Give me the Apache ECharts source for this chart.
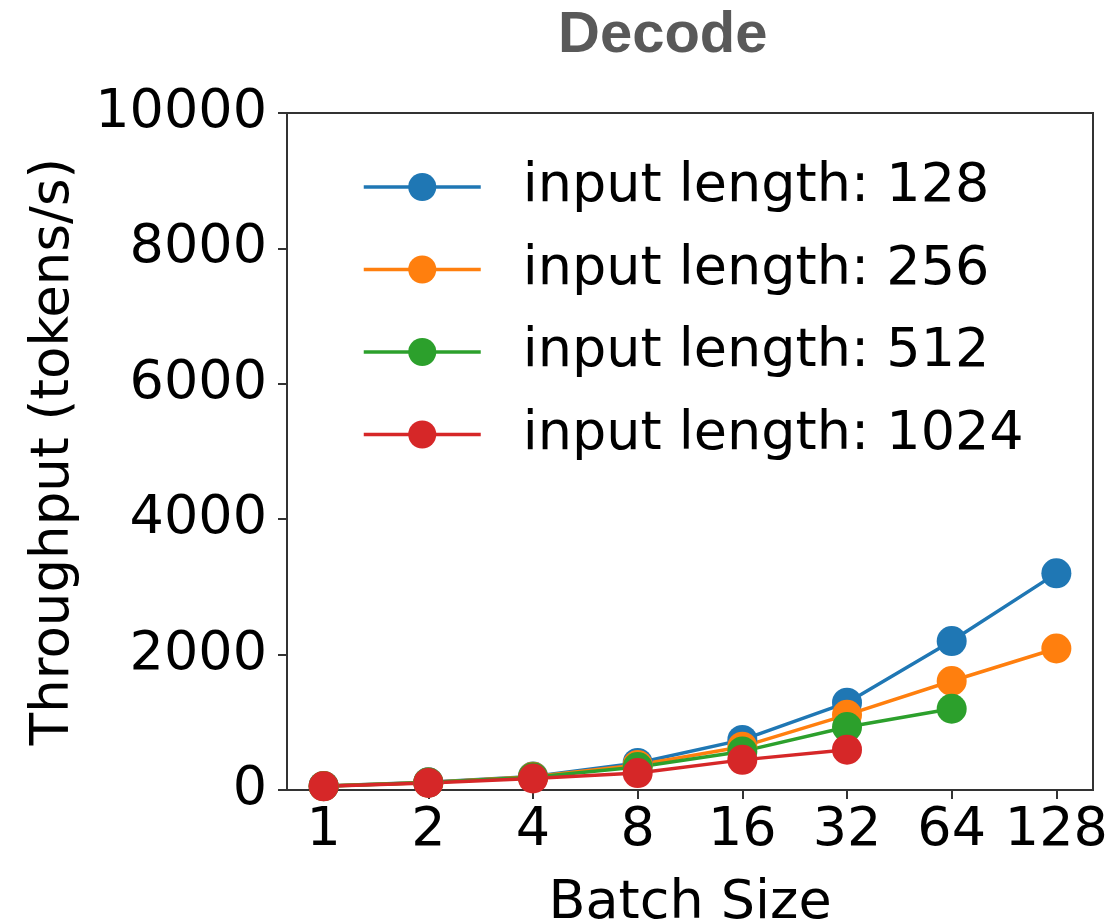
<!DOCTYPE html>
<html>
<head>
<meta charset="utf-8">
<script src="https://cdn.jsdelivr.net/npm/echarts@6/dist/echarts.min.js"></script>
<style>
  html, body { margin: 0; padding: 0; background: #fff; }
  #chart { width: 1112px; height: 924px; }
</style>
</head>
<body>
<div id="chart"></div>
<script>
// batch sizes on the x axis (evenly spaced categories)
const batchSizes = ['1', '2', '4', '8', '16', '32', '64', '128'];
const yTicks = [0, 2000, 4000, 6000, 8000, 10000];

// decode throughput (tokens/s) per input length
const len128 = [60, 115, 200, 400, 740, 1290, 2200, 3200];
const len256 = [58, 112, 195, 370, 640, 1110, 1610, 2090];
const len512 = [56, 110, 190, 340, 570, 930, 1200];
const len1024 = [55, 105, 170, 250, 445, 595];

const seriesNames = ['input length: 128', 'input length: 256', 'input length: 512', 'input length: 1024'];
const seriesValues = [len128, len256, len512, len1024];
const colors = ['#1f77b4', '#ff7f0e', '#2ca02c', '#d62728'];

const FONT = 'DejaVu Sans';
const idx = batchSizes.map((b, i) => i);

let chart = echarts.init(document.getElementById('chart'));

let option = {
  backgroundColor: '#fff',
  animation: false,
  color: colors,
  title: {
    text: 'Decode',
    left: 558,
    top: 7,
    padding: 0,
    textStyle: {
      fontFamily: 'Liberation Sans',
      fontWeight: 'bold',
      fontSize: 58,
      color: '#595959'
    }
  },
  grid: {
    left: 287,
    right: 19,
    top: 113,
    bottom: 134,
    containLabel: false,
    outerBoundsMode: 'none',
    show: true,
    borderColor: '#333',
    borderWidth: 2
  },
  legend: {
    orient: 'vertical',
    left: 362,
    top: 160,
    padding: 0,
    itemWidth: 117,
    itemHeight: 35,
    itemGap: 28.5,
    data: seriesNames,
    lineStyle: { width: 3.5 },
    textStyle: {
      fontFamily: FONT,
      fontSize: 54,
      color: '#000',
      padding: [0, 0, 0, 37]
    }
  },
  xAxis: {
    type: 'value',
    min: -0.35,
    max: 7.35,
    name: 'Batch Size',
    nameLocation: 'middle',
    nameGap: 87,
    nameTextStyle: { fontFamily: FONT, fontSize: 54, color: '#000' },
    splitLine: { show: false },
    axisLine: { show: false, onZero: false },
    axisTick: {
      show: true,
      customValues: idx,
      length: 9,
      lineStyle: { color: '#333', width: 2 }
    },
    axisLabel: {
      customValues: idx,
      formatter: (v) => batchSizes[Math.round(v)],
      margin: 14,
      fontFamily: FONT,
      fontSize: 54,
      color: '#000'
    }
  },
  yAxis: {
    type: 'value',
    min: yTicks[0],
    max: yTicks[yTicks.length - 1],
    interval: 2000,
    name: 'Throughput (tokens/s)',
    nameLocation: 'middle',
    nameGap: 206,
    nameTextStyle: { fontFamily: FONT, fontSize: 53, color: '#000' },
    splitLine: { show: false },
    axisLine: { show: false, onZero: false },
    axisTick: {
      show: true,
      length: 9,
      lineStyle: { color: '#333', width: 2 }
    },
    axisLabel: {
      margin: 20,
      formatter: (v) => String(v),
      fontFamily: FONT,
      fontSize: 54,
      color: '#000'
    }
  },
  series: seriesNames.map((name, s) => ({
    name: name,
    type: 'line',
    symbol: 'circle',
    symbolSize: 30,
    lineStyle: { width: 3.5 },
    data: seriesValues[s].map((v, i) => [i, v])
  }))
};

chart.setOption(option);
</script>
</body>
</html>
